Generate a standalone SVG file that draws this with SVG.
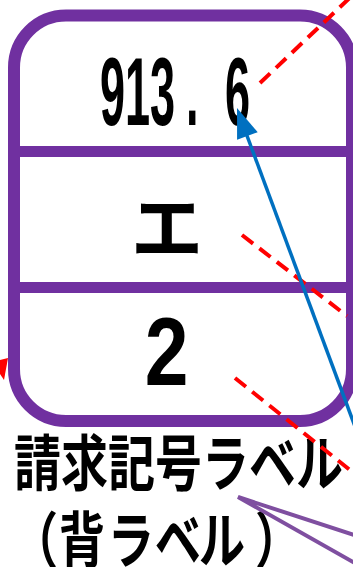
<svg xmlns="http://www.w3.org/2000/svg" width="353" height="567" viewBox="0 0 353 567">
<style>
.box{fill:none;stroke:#7030a0;stroke-width:12}
.div{stroke:#7030a0;stroke-width:11}
.red{fill:none;stroke:#ff0000;stroke-width:4;stroke-dasharray:14 8}
.blue{fill:none;stroke:#0070c0;stroke-width:3.5}
.plink{fill:none;stroke:#7f4fa0;stroke-width:4;stroke-linejoin:miter}
.num{font-family:"Liberation Sans",Arial,sans-serif;font-weight:bold;fill:#000}
.jp{font-family:"Noto Sans CJK JP","Noto Sans CJK SC",sans-serif;font-weight:bold;fill:#000}
</style>
<rect width="353" height="567" fill="#fff"/>
<g id="label">
<rect class="box" x="14" y="15.5" width="338" height="405.5" rx="52" ry="52"/>
<line class="div" x1="14" y1="151.5" x2="352" y2="151.5"/>
<line class="div" x1="14" y1="287.5" x2="352" y2="287.5"/>
</g>
<g id="cell-number">
<text class="num" font-size="97" transform="translate(0,125) scale(0.464,1)"><tspan x="215.5">9</tspan><tspan x="269.4">1</tspan><tspan x="323.3">3</tspan><tspan x="400.9">.</tspan><tspan x="484.9">6</tspan></text>
</g>
<g id="cell-kana">
<text class="jp" font-size="72" x="167" y="254" text-anchor="middle">エ</text>
</g>
<g id="cell-copy">
<text class="num" font-size="97" text-anchor="middle" transform="translate(166.5,385) scale(0.81,1)">2</text>
</g>
<g id="caption">
<text class="jp" font-size="61" x="14" y="486" textLength="329" lengthAdjust="spacingAndGlyphs">請求記号ラベル</text>
<text class="jp" font-size="61" text-anchor="middle" transform="translate(0,563) scale(0.76,1)"><tspan x="46">（</tspan><tspan x="107.9">背</tspan><tspan x="172.4">ラ</tspan><tspan x="234.2">ベ</tspan><tspan x="292.1">ル</tspan><tspan x="366">）</tspan></text>
</g>
<g id="connectors">
<line class="red" x1="260" y1="83" x2="358" y2="-10"/>
<line class="red" x1="242" y1="235" x2="347" y2="316"/>
<line class="red" x1="235" y1="378" x2="360" y2="478"/>
<polygon points="0,360 8,358 4,380 0,374" fill="#ff0000"/>
<line class="blue" x1="246" y1="133" x2="360" y2="440"/>
<polygon points="237,108 257.7,132.2 237.1,139.8" fill="#0070c0"/>
<polyline class="plink" points="360,566 238,497 360,537"/>
</g>
</svg>
